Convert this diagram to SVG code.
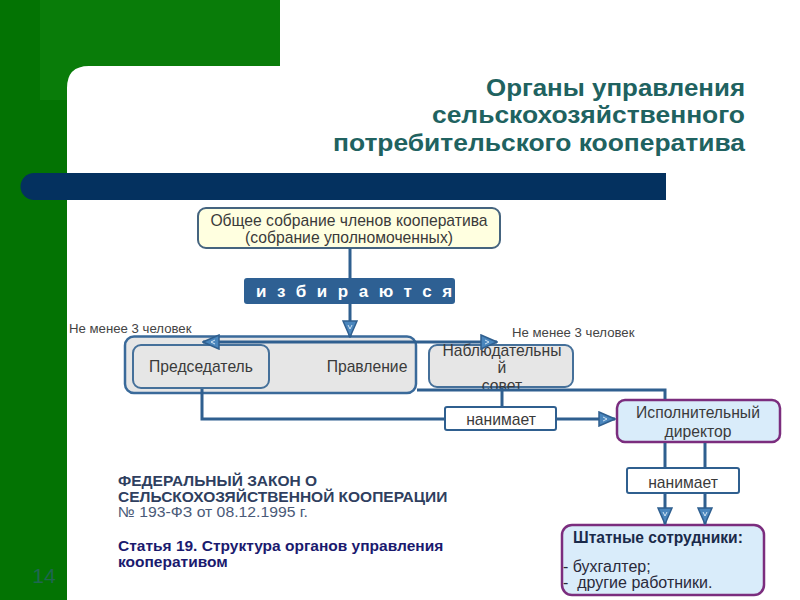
<svg xmlns="http://www.w3.org/2000/svg" width="800" height="600" viewBox="0 0 800 600">
<defs>
<style>
.t{font-family:"Liberation Sans",Arial,sans-serif}
.box{fill:#e6e6e6;stroke:#45709a;stroke-width:2}
.lbl{font-family:"Liberation Sans",Arial,sans-serif;font-size:15.7px;fill:#3a3a3a;text-anchor:middle}
.wire{fill:none;stroke:#2f5f8f;stroke-width:3}
.hire{fill:#ffffff;stroke:#2f5f8f;stroke-width:2}
.lav{fill:#d9ecfa;stroke:#7b2d7e;stroke-width:2.5}
.note{font-family:"Liberation Sans",Arial,sans-serif;font-size:13.2px;fill:#444}
</style>
<marker id="arr" viewBox="0 0 18 16" refX="17" refY="8" markerWidth="18" markerHeight="16" markerUnits="userSpaceOnUse" orient="auto-start-reverse">
<path d="M1,1 L17,8 L1,15 z" fill="#4a86bd" stroke="#2f5f8f" stroke-width="1.5"/>
<path d="M5,6 L9,8 L5,10" fill="none" stroke="#cfe3f3" stroke-width="1"/>
</marker>
</defs>
<rect x="0" y="0" width="800" height="600" fill="#ffffff"/>
<rect x="0" y="0" width="280" height="600" fill="#037303"/>
<rect x="40" y="0" width="240" height="100" fill="#097c09"/>
<path d="M67,600 L67,88 Q67,66 89,66 L280,66 L280,0 L800,0 L800,600 Z" fill="#ffffff"/>
<path d="M34,173 L666,173 L666,200 L34,200 A13.5,13.5 0 0 1 34,173 Z" fill="#04315f"/>
<g id="title" class="t" font-weight="bold" font-size="23" fill="#206260" text-anchor="end">
<text x="745" y="96" textLength="259" lengthAdjust="spacingAndGlyphs">Органы управления</text>
<text x="745" y="123" textLength="313" lengthAdjust="spacingAndGlyphs">сельскохозяйственного</text>
<text x="745" y="151" textLength="412" lengthAdjust="spacingAndGlyphs">потребительского кооператива</text>
</g>
<g id="assembly">
<rect x="198" y="208" width="302" height="40" rx="8" fill="#ffffe0" stroke="#45647f" stroke-width="2"/>
<text class="lbl" x="349" y="226">Общее собрание членов кооператива</text>
<text class="lbl" x="349" y="243">(собрание уполномоченных)</text>
</g>
<g id="elect">
<rect x="244" y="278" width="211" height="26" rx="3" fill="#2e6093"/>
<text class="t" x="256" y="297" font-size="17" font-weight="bold" fill="#ffffff" letter-spacing="10.6">избираются</text>
</g>
<text class="note" x="69" y="333">Не менее 3 человек</text>
<text class="note" x="512" y="337">Не менее 3 человек</text>
<g id="board">
<rect x="125" y="336.5" width="291" height="56.5" rx="9" fill="#e6e6e6" stroke="#3a6a9a" stroke-width="2.5"/>
<text class="lbl" x="367" y="372">Правление</text>
</g>
<g id="chairman">
<rect x="133" y="345" width="136" height="43" rx="8" class="box"/>
<text class="lbl" x="201" y="372">Председатель</text>
</g>
<g id="supervisory">
<rect x="429" y="345" width="144" height="42" rx="8" class="box"/>
<text class="lbl" x="502" y="356">Наблюдательны</text>
<text class="lbl" x="502" y="373">й</text>
<text class="lbl" x="502" y="391">совет</text>
</g>
<g id="hires1">
<rect x="445" y="407" width="111" height="23" rx="2" class="hire"/>
<text class="lbl" x="501" y="425">нанимает</text>
</g>
<g id="director">
<rect x="617" y="400" width="163" height="42" rx="8" class="lav"/>
<text class="lbl" x="698" y="418">Исполнительный</text>
<text class="lbl" x="698" y="437">директор</text>
</g>
<g id="hires2">
<rect x="627" y="468" width="112" height="25" rx="2" class="hire"/>
<text class="lbl" x="683" y="488">нанимает</text>
</g>
<g id="staff">
<rect x="562" y="525" width="202" height="70" rx="10" class="lav"/>
<text class="t" x="573" y="543" font-size="15.6" font-weight="bold" fill="#1a2a4a">Штатные сотрудники:</text>
<text class="t" x="563" y="572" font-size="16" fill="#2a2a3a">- бухгалтер;</text>
<text class="t" x="563" y="588" font-size="16" fill="#2a2a3a" xml:space="preserve">-  другие работники.</text>
</g>
<g id="connectors">
<line class="wire" x1="350" y1="248" x2="350" y2="278"/>
<line class="wire" x1="350" y1="304" x2="350" y2="337" marker-end="url(#arr)"/>
<line class="wire" stroke-width="2.5" x1="203" y1="342" x2="497" y2="342" marker-start="url(#arr)" marker-end="url(#arr)"/>
<polyline class="wire" points="202,389 202,419 445,419"/>
<line class="wire" x1="502" y1="388" x2="502" y2="407"/>
<line class="wire" x1="556" y1="419" x2="615" y2="419" marker-end="url(#arr)"/>
<polyline class="wire" points="417,390 665,390 665,399"/>
<line class="wire" x1="665" y1="443" x2="665" y2="468"/>
<line class="wire" x1="705" y1="443" x2="705" y2="468"/>
<line class="wire" x1="665" y1="493" x2="665" y2="524" marker-end="url(#arr)"/>
<line class="wire" x1="705" y1="493" x2="705" y2="524" marker-end="url(#arr)"/>
</g>
<g id="law" class="t" font-size="15.5">
<text x="118" y="486" font-weight="bold" fill="#2f3f5f">ФЕДЕРАЛЬНЫЙ ЗАКОН О</text>
<text x="118" y="502" font-weight="bold" fill="#2f3f5f">СЕЛЬСКОХОЗЯЙСТВЕННОЙ КООПЕРАЦИИ</text>
<text x="118" y="517" font-size="14.5" fill="#4a5a78" textLength="190" lengthAdjust="spacingAndGlyphs">№ 193-ФЗ от 08.12.1995 г.</text>
<text x="118" y="551" font-weight="bold" fill="#1a1a6e">Статья 19. Структура органов управления</text>
<text x="118" y="567" font-weight="bold" fill="#1a1a6e">кооперативом</text>
</g>
<text class="t" x="44" y="583" font-size="21" fill="#1f6650" text-anchor="middle">14</text>
</svg>
